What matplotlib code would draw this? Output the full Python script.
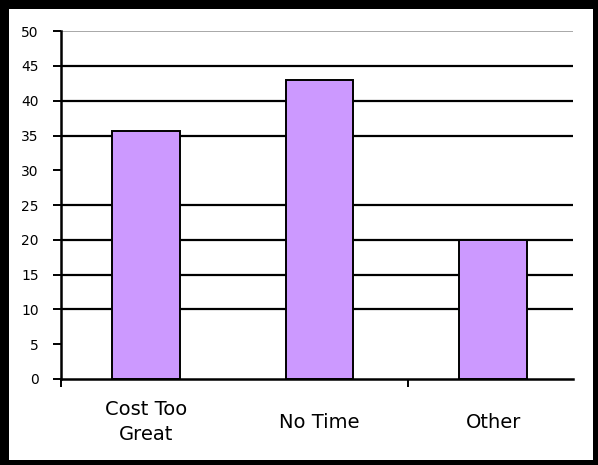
import numpy as np
import matplotlib.pyplot as plt
from matplotlib.patches import Rectangle

categories = ["Cost Too\nGreat", "No Time", "Other"]
values = [35.7, 43.0, 20.0]
y_ticks = [0, 5, 10, 15, 20, 25, 30, 35, 40, 45, 50]
grid_levels = [10, 15, 20, 25, 35, 40, 45]

fig = plt.figure(figsize=(5.98, 4.65), dpi=100)
ax = fig.add_axes([0.102, 0.185, 0.856, 0.748])

x = np.arange(len(categories))
for lvl in grid_levels:
    ax.axhline(lvl, color="black", lw=1.6, zorder=1)
ax.axhline(50, color="#999999", lw=1.2, zorder=1)

ax.bar(x, values, width=0.39, color="#CC99FF", edgecolor="black", lw=1.4, zorder=2)

ax.set_xlim(-0.49, 2.46)
ax.set_ylim(0, 50)
ax.set_yticks(y_ticks)
ax.set_yticklabels([str(v) for v in y_ticks], fontsize=10)
ax.set_xticks(x)
ax.set_xticklabels(categories, fontsize=14, linespacing=1.45, va="center")
ax.set_xticks([-0.49, 1.51], minor=True)
ax.tick_params(axis="x", which="major", length=0, pad=31)
ax.tick_params(axis="x", which="minor", length=6, width=1.4, direction="out")
ax.tick_params(axis="y", length=6, width=1.4, direction="out", pad=10)

for side in ("top", "right"):
    ax.spines[side].set_visible(False)
for side in ("left", "bottom"):
    ax.spines[side].set_linewidth(1.8)

# heavy black frame around the whole chart
W, H = 598, 465
for (x0, y0, w, h) in [(0, 0, 9, H), (0, H - 9, W, 9), (W - 5, 0, 5, H), (0, 0, W, 5)]:
    fig.add_artist(Rectangle((x0 / W, y0 / H), w / W, h / H,
                             transform=fig.transFigure, color="black", lw=0))

fig.savefig("out.png", dpi=100)
